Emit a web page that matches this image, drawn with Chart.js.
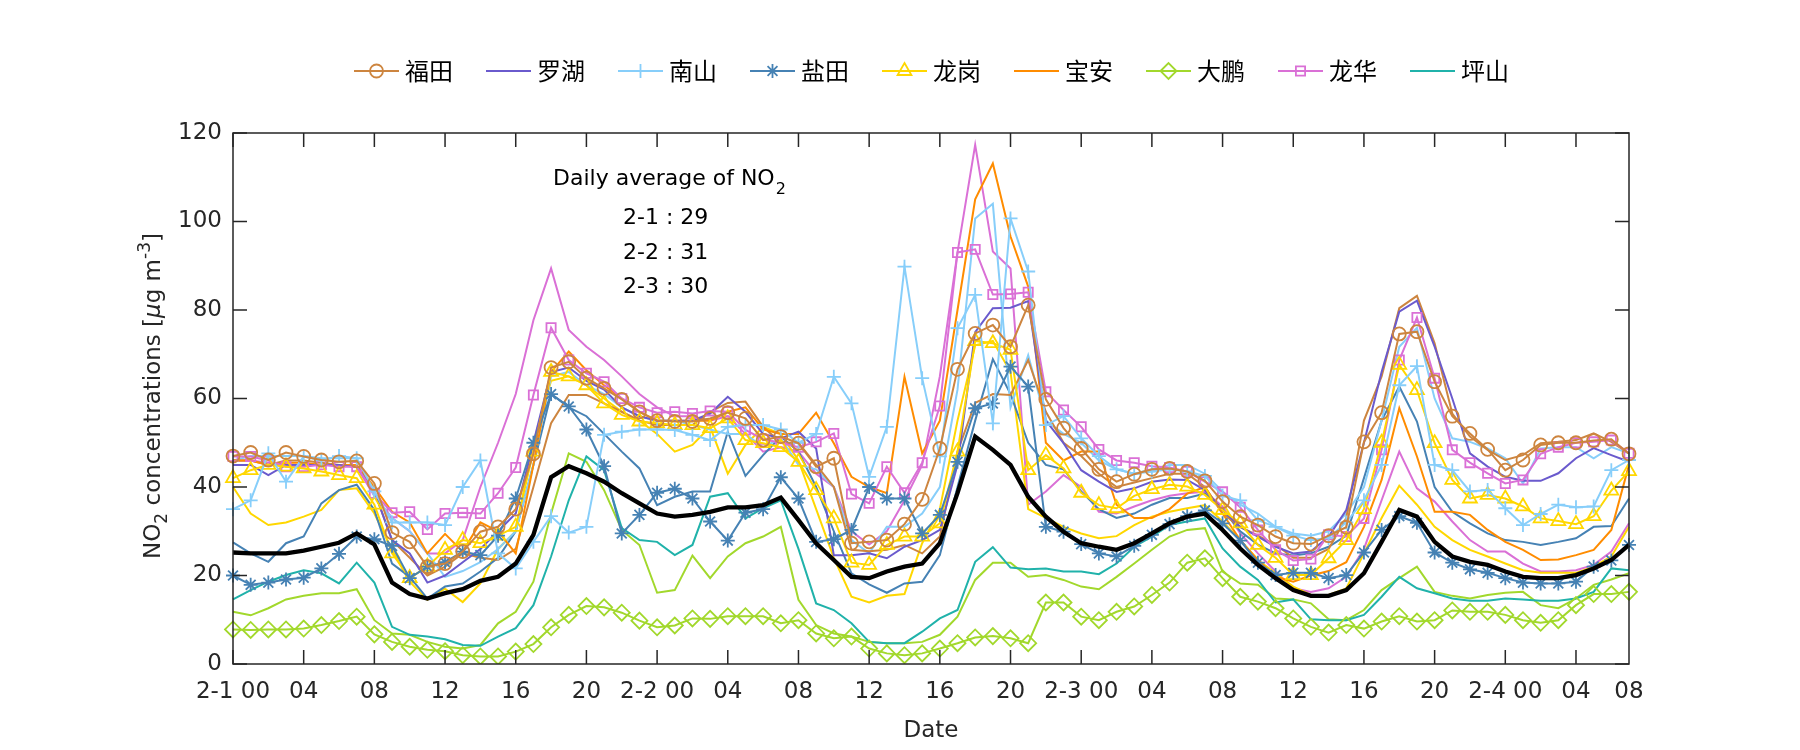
<!DOCTYPE html>
<html><head><meta charset="utf-8">
<script src="https://cdn.jsdelivr.net/npm/chart.js@4.4.0/dist/chart.umd.min.js"></script>
<style>html,body{margin:0;padding:0;background:#fff;}#wrap{width:1800px;height:750px;}</style>
</head><body><div id="wrap"><canvas id="c" width="1800" height="750"></canvas></div>
<script>
// ---------- categories / tick labels ----------
const days = ['2-1','2-2','2-3','2-4'];
const hourLabels = ['00','01','02','03','04','05','06','07','08','09','10','11','12','13','14','15','16','17','18','19','20','21','22','23'];
const timeLabels = [];
for (const d of days) for (const h of hourLabels) { if (timeLabels.length < 80) timeLabels.push(d + ' ' + h); }
const tickLabels = ['2-1 00','04','08','12','16','20','2-2 00','04','08','12','16','20','2-3 00','04','08','12','16','20','2-4 00','04','08'];
const yTicks = [0,20,40,60,80,100,120];
const legendNames = ['福田','罗湖','南山','盐田','龙岗','宝安','大鹏','龙华','坪山'];
const dailyLines = ['2-1 : 29','2-2 : 31','2-3 : 30'];

// ---------- series values (hourly, 2-1 00 .. 2-4 07) ----------
const futian = [47,47.8,46.1,47.8,46.9,46.1,45.7,45.9,40.8,29.7,
27.6,22,22.7,25.4,29.9,31,35,47.5,67,68.3,
64.6,62.3,59.8,57,55,54.8,54.8,55.5,56.8,55.5,
50.6,51.4,49.9,44.6,46.5,27.3,27.6,28,31.6,37.2,
48.7,66.6,74.7,76.6,71.7,81.1,59.8,53.3,48.7,44,
41.2,42.9,44,44.2,43.5,41.4,36.7,33.3,31.4,28.8,
27.3,27.1,29,30.9,50.2,56.8,74.6,75.1,63.8,56,
52.1,48.5,43.8,46.1,49.5,50,50,50.5,50.8,47.5];
const futian2 = [46,46,45,46,46,45.5,45,45,39,28,
24,20,22,25,24,23.5,26,40,54.4,60.8,
60.8,58.9,57,55,54,54,54,57,59,59.3,
53.6,50,50,45,40,25.8,25.5,25.8,26.9,25,
28.8,48,59,61,60.8,68.7,57,50,47,43,
40,41,42,43,43,40,34,31,29,27,
24,24,26,33,55,65,80.4,83.2,72.5,56.6,
51.4,48.4,46.1,47.2,49.9,50.2,50.6,52.1,50.2,47.6];
const luohu = [45,45,42.7,45,45,45,45,44.5,39,28,
25,18.4,20,23,26,30,34,50,66,67,
64,62,58,56,55,55,55,56.6,60.4,57,
52,51,52.5,48.7,24.6,24.6,25,23.9,26.5,28,
30.3,45,75,80.4,80.5,82,55,49.9,43.8,41.2,
38.9,39.7,41.2,41.7,41.6,39.3,34.8,31,28.8,26.5,
25,25.4,28.8,34.8,50,66,79.6,82.1,71.7,60,
47.6,44.6,42.3,41.4,41.4,43.1,46.5,48.8,47.2,45.7];
const nanshan = [35,37,47.6,41.2,46.9,46,47,46.5,39,32,
32,32,31.4,40,46,25,21.6,27.6,33.4,29.7,
31,51.8,52.5,53,53,52.9,51.8,50.6,53.6,54,
54,53,50,52,64.9,58.9,42.3,53.6,89.8,64.6,
46.9,75.9,83.4,54.4,100.7,88.7,54,56,51,47,
44,43,43.5,44,43.5,42.5,38,37,32.5,31,
29,28,28.5,32,37,45,63,67.3,45,43.8,
39,39.3,35.2,31.4,33.9,36,35.4,35.6,43.8,46.1];
const nanshan2 = [46,47,47,47,47,46.5,46.5,46.5,38,33,
30,25,19.7,21,23,26,30,45,65,66,
63,61,58,56,55,55,54,53,52,52,
49,51,45,44,40,28,25,31,31,34,
40,62,100.7,104,58,69.8,55,52,50,46,
44,43,44,45,45,43,39,36,34,31,
29.5,29,30,34,40,55,71.7,76,60,51,
50.2,48.7,46.5,40.8,48.7,49,49,46.5,49,47.6];
const yantian = [20,17.9,18.4,19.1,19.5,21.6,24.9,28.8,28.2,26.7,
19.4,22,23,25.4,24.6,29,37.4,50,61,58.2,
53,44.7,29.5,33.7,38.7,39.6,37.4,32.2,27.9,34.2,
35,42.2,37.4,27.6,28.2,30.3,40,37.4,37.4,29.5,
33.7,45.7,57.8,58.9,67.2,62.7,31,29.9,27.1,25,
24.3,26.7,29.2,31.6,33.4,34.7,31.8,27.9,22.9,20.1,
20.6,20.6,19.4,20.1,25.2,30.3,33.4,31.9,25.2,22.9,
21.4,20.6,19.4,18.4,18.2,18.2,18.6,22,23.4,26.9];
const yantian2 = [27.5,25,23.1,27.3,28.8,36.3,39.3,40.5,34.8,22.7,
19.7,14.8,17.5,18.2,20.9,24,30,45,61,58,
56,52,48,44.2,35.9,37.8,39,39,52.5,42.5,
47.2,51.4,48,40,30,20.5,18,16.1,18.2,18.6,
24.6,40,55,68.9,61,50,45,44,39,35,
33,34,36,37.5,37.5,38.5,35,30,27,25,
24.5,25,26.5,29,42,55,62.7,54.8,40,34.4,
31.8,29.5,28,27.6,26.9,27.6,28.4,31,31.2,37.4];
const longgang = [42,43.8,45,44.6,44.2,43.5,42.7,42,36,25,
19.4,22,25.8,28,27.3,29,31,48,66,65,
63,58.9,56.3,54.8,54.4,54,54,53.3,55.5,50.6,
49.9,49,45.7,39.3,32.9,22.9,22.4,26.9,28.8,28.8,
31.8,48,73,72.5,71,43.8,47.2,44.2,38.7,35.9,
35.2,38,39.5,40.5,40.1,38.2,34.8,31.8,26.9,24,
20.1,20.1,23.9,28,35,50,67.6,61.9,49.9,41.6,
37.4,38.2,37.4,35.6,32.9,32.3,31.6,33.4,39.2,43.6];
const longgang2 = [40,34,31.4,32,33.3,34.8,39.3,39.7,34,25.8,
18.6,14.5,17,14,18.2,26,30,50,64,65,
63,60,57,55,52,48,49.5,53.6,43,49.5,
53.6,52,46,35,24,15.2,13.9,15.4,15.8,27.3,
35,55,72,73,66,35,33,31,29.5,28.4,
28.9,31.4,33.3,34.4,35.2,35.9,32.2,28,23.5,20.5,
17.5,15.6,15.6,17.1,25,33,40.3,36,31,28,
25.8,24.3,22.7,21.2,20.6,20.6,20.6,22,24.3,31];
const baoan = [46,46,45,45.5,45.5,45,45,45,40,34.4,
32,25,29.4,25.4,32,30,25,45,66,70.6,
66.4,63,60,57,55,55,55,55,57,58,
53,52,52,56.8,49.9,42.3,40,38.6,64.9,47.6,
55,80,105,113.1,96.6,85.3,50,46,48,48,
36,33,33,35,38.5,40,34,28,23.5,19.7,
18.6,20,21,23,31,41.6,57.8,46.9,34.4,34.4,
33.7,30.3,27.6,25.8,23.5,23.6,24.6,25.8,30.3,45];
const dapeng = [7.8,7.7,7.8,7.8,8,8.8,9.7,10.7,6.7,5,
3.9,3.2,2.9,2,1.7,1.7,2.8,4.5,8.3,11.1,
13.1,12.8,11.6,9.8,8.3,8.7,10.3,10.2,10.8,10.8,
10.8,9.2,9.9,6.9,5.8,6.2,3.5,2.4,2,2.4,
3.5,4.7,6,6.3,5.8,4.7,13.9,13.9,10.7,9.9,
11.8,13,15.6,18.4,22.9,23.9,19.4,15.2,14.1,12.6,
10.3,8.4,7.1,8.8,8,9.6,10.8,9.6,9.9,12.1,
11.8,11.8,11.1,9.9,9.3,9.9,13.3,15.8,15.8,16.3];
const dapeng2 = [11.8,11,12.6,14.6,15.4,16,16,16.9,9.9,6.9,
6.6,5,3.9,3.5,4.3,9.2,11.8,18.6,34,47.6,
45.7,39.3,30.3,26.9,16.1,16.7,24.5,19.4,24.3,27.3,
28.8,31,14.5,8.8,6.9,6.2,5,4.7,4.7,5,
6.6,10.7,19,22.9,22.9,19.7,20.1,19,17.5,16.9,
19.7,22.7,25.8,28.8,30.3,30.7,20.9,18.2,17.9,14.8,
14.6,13.7,10.1,9.9,12.2,16.7,19.4,22,16.3,15.4,
14.8,15.6,16.1,16.3,13.3,12.6,14.8,17.9,19.1,20.5];
const longhua = [46.9,46.9,46,44.6,44.6,45,44.6,44.6,38.6,34.2,
34.4,30.4,34,34.2,34,38.6,44.4,60.8,76,68.7,
65.7,63.8,60,58,56.8,57,56.6,57.2,57,52.9,
50.8,50,49,50.2,52.1,38.4,36.3,44.6,38.7,45.5,
58.3,93,93.7,83.5,83.6,84,61.5,57.4,53.6,48.5,
46,45.5,44.7,44.4,43.5,41.2,38.9,35.4,30.3,25.8,
23.4,23.7,29.2,28.8,32.9,48.4,68.7,78.3,64.6,48.4,
45.5,43.1,40.8,41.6,47.5,49,50,50.2,50.6,47.6];
const longhua2 = [46,46,45.5,45,45,45,45,44.5,38,33,
30,25,25,28,40,50,61,77.7,89.4,75.5,
71.7,68.7,65,61,58,56,56,55,56,52,
48,49,48,43,40,30,27,30,37,45,
65,93,117.3,93.2,89.4,36,39,42.7,40,34.4,
34,35.6,37,38,38.6,38.9,35.6,29.5,25,20.9,
17.1,16.3,17.1,19.7,26,37,48,39.7,36.7,32.2,
28,25.4,25.4,22.7,20.9,20.9,21.2,22.4,25.4,31.8];
const pingshan = [14.6,16.7,18.6,20.1,21.2,20.5,18.2,22.9,18.4,8.4,
6.6,6.2,5.6,4.3,4.1,6.2,8.1,13.3,24.3,37,
46.9,43.8,30.7,28,27.6,24.6,26.9,37.8,38.6,32.9,
35.2,37,26,13.7,12.2,9.2,5,4.7,4.7,7.3,
10.3,12.2,23.1,26.4,21.8,21.4,21.6,20.9,20.9,20.3,
22.7,26.5,28.8,31.4,32.2,32.9,26.1,22,19,13.9,
14.6,10.1,9.9,9.9,11.1,15.2,19.7,17.1,16,14.8,
14.3,14.3,14.8,14.6,14.3,14.3,14.8,16.3,21.6,21.2];
const average = [25.2,25,25,25,25.6,26.5,27.4,29.5,27,18.4,
15.8,14.8,16,16.9,18.8,19.7,22.7,29.2,42.2,44.7,
43.1,41.2,38.6,36.3,34,33.3,33.7,34.4,35.4,35.4,
35.9,37.6,32.5,27.3,23.5,19.7,19.4,20.9,22,22.7,
27.3,38.6,51.4,48.4,45,37.8,33.3,29.9,27.3,26.5,
25.8,27.3,29.5,31.8,33.3,34,30.3,26.1,22.4,19.4,
16.7,15.4,15.4,16.7,20.5,27.6,34.8,33.3,27.6,24.3,
23.1,22.4,20.9,19.7,19.4,19.4,20.1,21.6,23.5,26.9];

// ---------- styles ----------
const C = {futian:'#CD853F', luohu:'#6A5ACD', nanshan:'#87CEFA', yantian:'#4682B4', longgang:'#FFD700',
  baoan:'#FF8C00', dapeng:'#A2D82C', longhua:'#DA70D6', pingshan:'#20B2AA'};
const R = {circle:6.5, cross:7, star:7, triangle:8, rectRot:8, rect:6.5};
const legendStyle = [
  {c:C.futian, p:'circle'}, {c:C.luohu, p:false}, {c:C.nanshan, p:'cross'},
  {c:C.yantian, p:'star'}, {c:C.longgang, p:'triangle'}, {c:C.baoan, p:false},
  {c:C.dapeng, p:'rectRot'}, {c:C.longhua, p:'rect'}, {c:C.pingshan, p:false}];

function ds(label, data, color, style, order, width) {
  return {label, data, borderColor: color, borderWidth: width || 2, pointStyle: style || 'circle',
    pointRadius: style ? R[style] : 0, pointBorderColor: color, pointBackgroundColor: 'rgba(0,0,0,0)',
    pointBorderWidth: 1.8, tension: 0, fill: false, order};
}
const datasets = [
  ds('average', average, '#000000', false, 0, 4.3),
  ds('福田', futian, C.futian, 'circle', 1),
  ds('南山', nanshan, C.nanshan, 'cross', 1),
  ds('盐田', yantian, C.yantian, 'star', 1),
  ds('龙岗', longgang, C.longgang, 'triangle', 1),
  ds('大鹏', dapeng, C.dapeng, 'rectRot', 1),
  ds('龙华', longhua, C.longhua, 'rect', 1),
  ds('罗湖', luohu, C.luohu, false, 2),
  ds('宝安', baoan, C.baoan, false, 2),
  ds('坪山', pingshan, C.pingshan, false, 2),
  ds('福田b', futian2, C.futian, false, 2),
  ds('南山b', nanshan2, C.nanshan, false, 2),
  ds('盐田b', yantian2, C.yantian, false, 2),
  ds('龙岗b', longgang2, C.longgang, false, 2),
  ds('大鹏b', dapeng2, C.dapeng, false, 2),
  ds('龙华b', longhua2, C.longhua, false, 2)
];

const FONT = "'DejaVu Sans'";
const INK = '#262626';

function drawRuns(ctx, runs, x, y) {
  let total = 0;
  for (const r of runs) { ctx.font = r.f; r.w = ctx.measureText(r.t).width; total += r.w; }
  let cx = x - total / 2;
  for (const r of runs) { ctx.font = r.f; ctx.fillText(r.t, cx, y + (r.dy || 0)); cx += r.w; }
}

const deco = {
  id: 'deco',
  afterDatasetsDraw(chart) {
    const {ctx, chartArea: a, scales: {x, y}} = chart;
    ctx.save();
    // box and inside ticks
    ctx.strokeStyle = INK; ctx.lineWidth = 1.5;
    ctx.strokeRect(a.left, a.top, a.right - a.left, a.bottom - a.top);
    ctx.beginPath();
    for (let i = 0; i < timeLabels.length; i += 4) {
      const px = x.getPixelForValue(i);
      ctx.moveTo(px, a.bottom); ctx.lineTo(px, a.bottom - 14);
      ctx.moveTo(px, a.top); ctx.lineTo(px, a.top + 14);
    }
    for (const v of yTicks) {
      const py = y.getPixelForValue(v);
      ctx.moveTo(a.left, py); ctx.lineTo(a.left + 14, py);
      ctx.moveTo(a.right, py); ctx.lineTo(a.right - 14, py);
    }
    ctx.stroke();

    // annotation
    ctx.fillStyle = '#000'; ctx.textAlign = 'left'; ctx.textBaseline = 'alphabetic';
    ctx.font = '22px ' + FONT;
    const t1 = 'Daily average of NO';
    ctx.fillText(t1, 553, 185);
    const w1 = ctx.measureText(t1).width;
    ctx.font = '16px ' + FONT;
    ctx.fillText('2', 553 + w1 + 1, 194);
    ctx.font = '22px ' + FONT;
    dailyLines.forEach((s, i) => ctx.fillText(s, 623, 224 + i * 34.5));

    // y title (rotated)
    ctx.save();
    ctx.fillStyle = INK;
    ctx.translate(160, 396); ctx.rotate(-Math.PI / 2);
    drawRuns(ctx, [
      {t: 'NO', f: '23px ' + FONT},
      {t: '2', f: '17px ' + FONT, dy: 7},
      {t: ' concentrations [', f: '23px ' + FONT},
      {t: 'μ', f: 'italic 23px ' + FONT},
      {t: 'g m', f: '23px ' + FONT},
      {t: '-3', f: '17px ' + FONT, dy: -10},
      {t: ']', f: '23px ' + FONT}
    ], 0, 0);
    ctx.restore();

    // x title
    ctx.fillStyle = INK; ctx.textAlign = 'center'; ctx.textBaseline = 'middle';
    ctx.font = '23px ' + FONT;
    ctx.fillText('Date', (a.left + a.right) / 2, 731);

    // legend
    ctx.textAlign = 'left'; ctx.textBaseline = 'middle';
    const ly = 71, L = 45, gap = 6, period = 132, lx0 = 354;
    legendNames.forEach((name, i) => {
      const st = legendStyle[i];
      const x0 = lx0 + period * i;
      ctx.strokeStyle = st.c; ctx.lineWidth = 2;
      ctx.beginPath(); ctx.moveTo(x0, ly); ctx.lineTo(x0 + L, ly); ctx.stroke();
      if (st.p) {
        ctx.lineWidth = 1.8;
        ctx.fillStyle = 'rgba(0,0,0,0)';
        Chart.helpers.drawPoint(ctx, {pointStyle: st.p, radius: R[st.p], borderWidth: 1.8, rotation: 0}, x0 + L / 2, ly);
      }
      ctx.fillStyle = '#000';
      ctx.font = "24px 'Noto Sans CJK SC'";
      ctx.fillText(name, x0 + L + gap, ly);
    });
    ctx.restore();
  }
};

new Chart(document.getElementById('c'), {
  type: 'line',
  data: {labels: timeLabels, datasets},
  options: {
    responsive: false, animation: false, devicePixelRatio: 1,
    layout: {padding: {top: 133, right: 171, bottom: 0, left: 0}},
    plugins: {legend: {display: false}, tooltip: {enabled: false}},
    scales: {
      x: {
        type: 'category', offset: false,
        grid: {display: false, drawTicks: false}, border: {display: false},
        ticks: {autoSkip: false, maxRotation: 0, minRotation: 0, padding: 14, color: INK,
          font: {family: 'DejaVu Sans', size: 23},
          callback: (v, i) => (i % 4 === 0 ? tickLabels[i / 4] : (i === timeLabels.length - 1 ? tickLabels[20] : null))},
        afterFit: s => { s.height = 86; }
      },
      y: {
        min: 0, max: 120,
        grid: {display: false, drawTicks: false}, border: {display: false},
        ticks: {stepSize: 20, padding: 11, color: INK, font: {family: 'DejaVu Sans', size: 23}},
        afterFit: s => { s.width = 233; }
      }
    }
  },
  plugins: [deco]
});
</script>
</body></html>
